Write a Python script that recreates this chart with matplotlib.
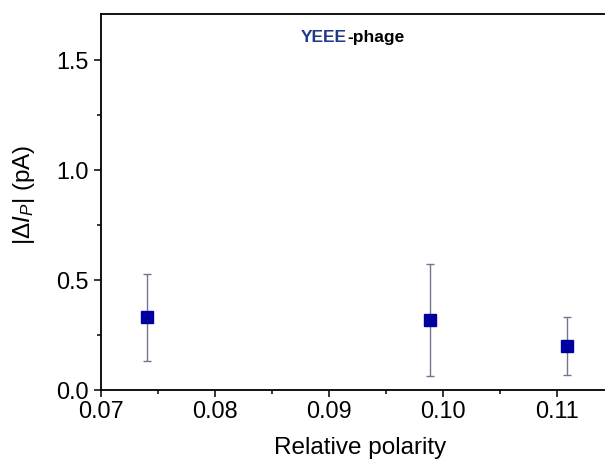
import numpy as np
import matplotlib.pyplot as plt

plt.rcParams["font.family"] = ["Liberation Sans", "DejaVu Sans"]
plt.rcParams["mathtext.fontset"] = "custom"
plt.rcParams["mathtext.rm"] = "Liberation Sans"
plt.rcParams["mathtext.it"] = "Liberation Sans:italic"

# relative polarity of solvent vs current change of YEEE-phage
polarity = [0.0740, 0.0989, 0.1109]
delta_ip = [0.330, 0.318, 0.200]
delta_ip_err = [0.197, 0.256, 0.134]

W, H = 605, 465
fig = plt.figure(figsize=(W / 100, H / 100), dpi=100)
# the original is cropped on the right, so the axes run past the edge
left, right, bottom, top = 101, 620, 390, 14
ax = fig.add_axes([left / W, 1 - bottom / H, (right - left) / W, (bottom - top) / H])

ax.errorbar(polarity, delta_ip, yerr=delta_ip_err, fmt="s",
            color="#0000a0", markersize=8.2, ecolor="#74748c",
            elinewidth=1.0, capsize=3.0, capthick=1.0)

px_per_unit_x = 11400
px_per_unit_y = 220
ax.set_xlim(0.07, 0.07 + (right - left) / px_per_unit_x)
ax.set_ylim(0, (bottom - top) / px_per_unit_y)
ax.set_xticks([0.07, 0.08, 0.09, 0.10, 0.11])
ax.set_xticklabels(["0.07", "0.08", "0.09", "0.10", "0.11"])
ax.set_xticks(np.arange(0.075, 0.12, 0.01), minor=True)
ax.set_yticks([0.0, 0.5, 1.0, 1.5])
ax.set_yticks([0.25, 0.75, 1.25], minor=True)

ax.tick_params(which="major", direction="out", length=5, width=1.1,
               labelsize=16.8)
ax.tick_params(axis="x", which="major", pad=2.5)
ax.tick_params(axis="y", which="major", pad=4)
ax.tick_params(which="minor", direction="out", length=3, width=1.1)
for s in ax.spines.values():
    s.set_linewidth(1.3)

ax.set_xlabel("Relative polarity", fontsize=17.5, labelpad=10)
ax.set_ylabel(r"$|\mathit{\Delta I_P}|$ (pA)", fontsize=17.5)
ax.yaxis.set_label_coords(-64 / (right - left), 0.52)

fig.text(347 / W, 1 - 42 / H, "YEEE", color="#1f3a8a",
         fontsize=12.5, fontweight="bold", ha="right", va="baseline")
fig.text(347 / W, 1 - 42 / H, "-phage", color="black",
         fontsize=12.5, fontweight="bold", ha="left", va="baseline")

fig.savefig("out.png", dpi=100)
